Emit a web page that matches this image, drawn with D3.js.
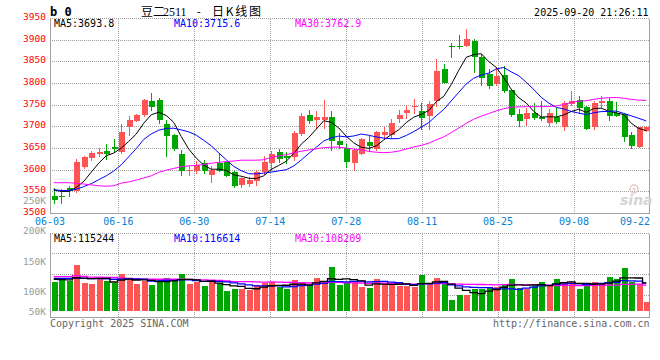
<!DOCTYPE html>
<html><head><meta charset="utf-8">
<script src="https://cdn.jsdelivr.net/npm/d3@7"></script>
<style>
html,body{margin:0;padding:0;background:#fff;}
svg{display:block;}
text{font-family:"DejaVu Sans Mono","Liberation Mono",monospace;font-size:10px;}
</style></head><body>
<svg id="c" width="660" height="360"></svg>
<script>
// ---------------- data ----------------
const dates = [
"06-03","06-04","06-05","06-06","06-09","06-10","06-11","06-12","06-13","06-16","06-17","06-18","06-19","06-20","06-23","06-24","06-25","06-26","06-27","06-30",
"07-01","07-02","07-03","07-04","07-07","07-08","07-09","07-10","07-11","07-14","07-15","07-16","07-17","07-18","07-21","07-22","07-23","07-24","07-25","07-28","07-29","07-30","07-31",
"08-01","08-04","08-05","08-06","08-07","08-08","08-11","08-12","08-13","08-14","08-15","08-18","08-19","08-20","08-21","08-22","08-25","08-26","08-27","08-28","08-29",
"09-01","09-02","09-03","09-04","09-05","09-08","09-09","09-10","09-11","09-12","09-15","09-16","09-17","09-18","09-19","09-22"];
const open  = [3540,3541,3560,3551,3607,3627,3637,3645,3654,3641,3699,3714,3727,3760,3762,3706,3682,3637,3597,3597,
               3616,3589,3616,3618,3595,3566,3568,3574,3595,3616,3642,3633,3630,3683,3728,3715,3716,3723,3668,3651,
               3616,3637,3666,3649,3682,3682,3718,3731,3745,3737,3725,3760,3833,3887,3886,3886,3898,3861,3821,3798,
               3820,3785,3729,3719,3731,3723,3710,3723,3700,3752,3762,3745,3699,3756,3760,3731,3729,3682,3654,3691];
const high  = [3560,3557,3563,3626,3633,3645,3652,3660,3672,3706,3725,3730,3764,3777,3766,3715,3683,3647,3610,3622,
               3624,3609,3638,3619,3597,3585,3584,3600,3633,3645,3648,3641,3691,3733,3738,3737,3762,3737,3685,3660,
               3650,3675,3682,3691,3700,3719,3739,3750,3765,3755,3760,3857,3846,3894,3912,3925,3902,3867,3833,3838,
               3840,3787,3741,3743,3756,3760,3741,3744,3760,3783,3771,3748,3760,3771,3766,3758,3733,3687,3700,3702];
const low   = [3522,3522,3537,3548,3603,3622,3630,3624,3641,3637,3679,3712,3722,3737,3706,3630,3644,3586,3586,3591,
               3591,3570,3595,3584,3558,3558,3561,3563,3590,3599,3616,3614,3622,3679,3706,3695,3695,3644,3649,3606,
               3597,3635,3643,3645,3672,3672,3710,3718,3730,3692,3693,3745,3798,3859,3879,3884,3825,3794,3787,3794,
               3779,3722,3700,3702,3715,3714,3700,3706,3691,3748,3733,3692,3693,3744,3713,3722,3666,3649,3651,3687];
const close = [3532,3539,3551,3618,3630,3639,3643,3637,3648,3688,3716,3728,3762,3746,3716,3679,3648,3599,3601,3613,
               3597,3601,3599,3586,3563,3581,3578,3595,3618,3637,3626,3627,3685,3725,3714,3723,3723,3668,3659,3618,
               3647,3672,3656,3687,3687,3708,3728,3739,3749,3720,3752,3829,3802,3885,3884,3902,3861,3812,3794,3817,
               3783,3728,3714,3733,3720,3718,3731,3712,3756,3760,3744,3695,3756,3760,3725,3725,3676,3656,3699,3700];
const volume = [119600,125400,122000,176300,115200,111900,127800,122000,116300,145800,131200,111900,123000,108500,125400,132200,123000,145800,111900,117600,
                105100,125400,114200,88100,94900,94900,92500,108500,115200,118600,100700,94900,125400,118600,106100,132200,122000,169500,109500,114200,
                117600,102700,97300,128800,111900,111900,105100,105100,100700,142400,115200,132200,110800,57600,74600,74600,93900,93900,100700,102700,
                112900,128800,98300,95900,108500,118600,109500,128800,118600,118600,94900,109500,117600,115200,135600,128800,167100,117600,111900,51900];
const ma5Pre  = [3554,3551,3551,3560];
const ma10Pre = [3555,3553,3553,3556,3562,3569,3578,3587,3598];
const ma30Pre = [3571,3571,3571,3570,3568,3566,3564,3563,3564,3570,3573,3577,3582,3587,3595,3600,3604,3608,3610,3611,
                 3613,3616,3618,3620,3621,3623,3623,3623,3624];
const vma5Pre  = [128000,127000,126000,133000];
const vma10Pre = [131000,131000,131000,132000,131000,130000,130000,129000,128000];
const vma30Pre = [136600,136600,137000,140000,138000,135000,135000,134600,134000,132000,131000,130000,128000,128000,128000,
                  128000,128000,128000,127500,127000,126000,125000,124000,122000,120000,120000,120000,119000,118000];
const priceTicks = [3500,3550,3600,3650,3700,3750,3800,3850,3900,3950];
const volTicks = [250000,200000,150000,100000,50000];
const volTickLabels = ["250K","200K","150K","100K","50K"];
const dateTicks = ["06-03","06-16","06-30","07-14","07-28","08-11","08-25","09-08","09-22"];
const priceMaLabels = ["MA5:3693.8","MA10:3715.6","MA30:3762.9"];
const volMaLabels = ["MA5:115244","MA10:116614","MA30:108209"];
const maColors = ["#000000","#0000ff","#ff00ff"];

// ---------------- scales ----------------
const svg = d3.select("#c");
const L = 50, R = 650;
const x = d3.scaleBand().domain(dates).range([L, R]).paddingInner(0.2).paddingOuter(0.1);
const xc = d => x(d) + x.bandwidth()/2;
const xTick = d3.scalePoint().domain(dates).range([L, R]);
const yP = d3.scaleLinear().domain([3500, 3950]).range([213.5, 18.5]);
const yV = d3.scaleLinear().domain([0, 200000]).range([317, 258]);
const yVLabel = d3.scaleLinear().domain([100000, 200000]).range([291, 230]);
const volFrame = d3.scaleLinear().domain([0, 4]).range([317.5, 233.5]);
const volBase = 311;
const UP = "#ff5454", DOWN = "#00a600", GRID = "#a0a0a0", AXIS = "#a0a0a0";

function movingAvg(vals, n, pre) {
  return vals.map((v, i) => i < n - 1 ? pre[i] : d3.mean(vals.slice(i - n + 1, i + 1)));
}
const rows = dates.map((d, i) => ({d, o: open[i], h: high[i], l: low[i], c: close[i], v: volume[i]}));

// ---------------- grid ----------------
const g = svg.append("g").attr("shape-rendering", "crispEdges");
g.selectAll(".hp").data(priceTicks.filter(t => t > 3500 && t < 3950)).join("line")
  .attr("x1", L).attr("x2", R).attr("y1", d => yP(d)).attr("y2", d => yP(d))
  .attr("stroke", GRID).attr("stroke-dasharray", "1,1");
g.append("line").attr("x1", L).attr("x2", R).attr("y1", yP(3950)).attr("y2", yP(3950))
  .attr("stroke", GRID).attr("stroke-dasharray", "1,1");
const vt = dateTicks.slice(1, -1);
g.selectAll(".vp").data(vt).join("line")
  .attr("x1", d => xTick(d)).attr("x2", d => xTick(d)).attr("y1", yP(3950)).attr("y2", yP(3500))
  .attr("stroke", GRID).attr("stroke-dasharray", "1,1");
g.selectAll(".vv").data(vt).join("line")
  .attr("x1", d => xTick(d)).attr("x2", d => xTick(d)).attr("y1", volFrame(4)).attr("y2", volFrame(0))
  .attr("stroke", GRID).attr("stroke-dasharray", "1,1");
g.selectAll(".hv").data([1, 2, 3]).join("line")
  .attr("x1", L).attr("x2", R).attr("y1", d => volFrame(d) - 1).attr("y2", d => volFrame(d) - 1)
  .attr("stroke", GRID).attr("stroke-dasharray", "1,1");
g.append("line").attr("x1", L).attr("x2", R).attr("y1", volFrame(4)).attr("y2", volFrame(4))
  .attr("stroke", GRID).attr("stroke-dasharray", "1,1");
[[yP(3950), yP(3500)], [volFrame(4), volFrame(0)]].forEach(([t, b]) => {
  g.append("line").attr("x1", L).attr("x2", L).attr("y1", t).attr("y2", b).attr("stroke", AXIS);
  g.append("line").attr("x1", R - 0.5).attr("x2", R - 0.5).attr("y1", t).attr("y2", b).attr("stroke", AXIS).attr("stroke-width", 1.5);
  g.append("line").attr("x1", L).attr("x2", R).attr("y1", b).attr("y2", b).attr("stroke", AXIS);
});

// ---------------- watermark ----------------
const wm = svg.append("g");
wm.append("circle").attr("cx", 634).attr("cy", 189).attr("r", 4).attr("fill", "none").attr("stroke", "#efc4c4").attr("stroke-width", 1.5);
wm.append("circle").attr("cx", 634).attr("cy", 189).attr("r", 1.5).attr("fill", "#d8d8d8");
wm.append("text").attr("x", 620).attr("y", 205).text("sina")
  .style("font-family", "DejaVu Sans").style("font-size", "14px").style("font-weight", "bold").style("font-style", "italic")
  .attr("fill", "#d4d4d4");

// ---------------- candles ----------------
const cg = svg.append("g").attr("shape-rendering", "crispEdges");
cg.selectAll(".wick").data(rows).join("line")
  .attr("x1", d => Math.round(xc(d.d)) + 0.5).attr("x2", d => Math.round(xc(d.d)) + 0.5)
  .attr("y1", d => yP(d.h)).attr("y2", d => yP(d.l))
  .attr("stroke", d => d.c >= d.o ? UP : DOWN);
cg.selectAll(".body").data(rows).join("rect")
  .attr("x", d => Math.round(xc(d.d)) - 2).attr("width", 6)
  .attr("y", d => yP(Math.max(d.o, d.c)))
  .attr("height", d => Math.max(1, yP(Math.min(d.o, d.c)) - yP(Math.max(d.o, d.c))))
  .attr("fill", d => d.c >= d.o ? UP : DOWN);

const pMA = [movingAvg(close, 5, ma5Pre), movingAvg(close, 10, ma10Pre), movingAvg(close, 30, ma30Pre)];
const pLine = d3.line().x((v, i) => xc(dates[i])).y(v => yP(v));
pMA.forEach((arr, k) => {
  svg.append("path").attr("d", pLine(arr)).attr("fill", "none").attr("stroke", maColors[k]).attr("stroke-width", 1);
});

// ---------------- volume ----------------
const vg = svg.append("g").attr("shape-rendering", "crispEdges");
vg.selectAll("rect").data(rows).join("rect")
  .attr("x", d => Math.round(xc(d.d)) - 2).attr("width", 6)
  .attr("y", d => yV(d.v)).attr("height", d => Math.max(0, volBase - yV(d.v)))
  .attr("fill", d => d.c >= d.o ? UP : DOWN);
const vMA = [movingAvg(volume, 5, vma5Pre), movingAvg(volume, 10, vma10Pre), movingAvg(volume, 30, vma30Pre)];
const vLine = d3.line().x((v, i) => xc(dates[i])).y(v => yV(v)).curve(d3.curveStep);
[2, 1, 0].forEach(k => {
  svg.append("path").attr("d", vLine(vMA[k])).attr("fill", "none").attr("stroke", maColors[k]).attr("stroke-width", 1.3);
});

// ---------------- text ----------------
const t = svg.append("g");
t.selectAll(".pl").data(priceTicks).join("text")
  .attr("x", 46).attr("y", d => yP(d) + 1.6).attr("text-anchor", "end").attr("fill", "#ff0000")
  .style("font-size", "9.5px").text(d => d);
t.selectAll(".vl").data(volTicks).join("text")
  .attr("x", 46).attr("y", d => Math.min(yVLabel(d), volBase) + 4).attr("text-anchor", "end").attr("fill", "#9a9a9a")
  .style("font-size", "9.5px").text((d, i) => volTickLabels[i]);
t.selectAll(".dl").data(dateTicks).join("text")
  .attr("x", (d, i) => i === dateTicks.length - 1 ? R : xTick(d))
  .attr("y", 224.5)
  .attr("text-anchor", (d, i) => i === dateTicks.length - 1 ? "end" : "middle")
  .attr("fill", "#0a7fd0").text(d => d);
const maX = [54, 174, 295];
priceMaLabels.forEach((s, k) => t.append("text").attr("x", maX[k]).attr("y", 27).attr("fill", maColors[k]).text(s));
volMaLabels.forEach((s, k) => t.append("text").attr("x", maX[k]).attr("y", 242).attr("fill", maColors[k]).text(s));

// header
t.append("text").attr("x", 50).attr("y", 15.5).text("b 0")
  .style("font-size", "12px").style("font-weight", "bold").attr("fill", "#000");
t.append("text").attr("x", 141).attr("y", 15.5).text("豆二")
  .style("font-family", "'Noto Sans CJK SC'").style("font-size", "12px").attr("fill", "#000");
t.append("text").attr("x", 163).attr("y", 15.5).text("2511")
  .style("font-family", "'Liberation Serif'").style("font-size", "12px").attr("fill", "#000");
t.append("text").attr("x", 195.5).attr("y", 15).text("-")
  .style("font-size", "11px").attr("fill", "#000");
t.append("text").attr("x", 212).attr("y", 15.5).text("日K线图")
  .style("font-family", "'Noto Sans CJK SC'").style("font-size", "12px")
  .attr("textLength", 49).attr("lengthAdjust", "spacing").attr("fill", "#000");
t.append("text").attr("x", 648.5).attr("y", 16).attr("text-anchor", "end").attr("fill", "#000").text("2025-09-20 21:26:11");

// footer
t.append("text").attr("x", 50).attr("y", 327).attr("fill", "#666").text("Copyright 2025 SINA.COM");
t.append("text").attr("x", 649.5).attr("y", 327).attr("text-anchor", "end").attr("fill", "#666").text("http://finance.sina.com.cn");
</script>
</body></html>
